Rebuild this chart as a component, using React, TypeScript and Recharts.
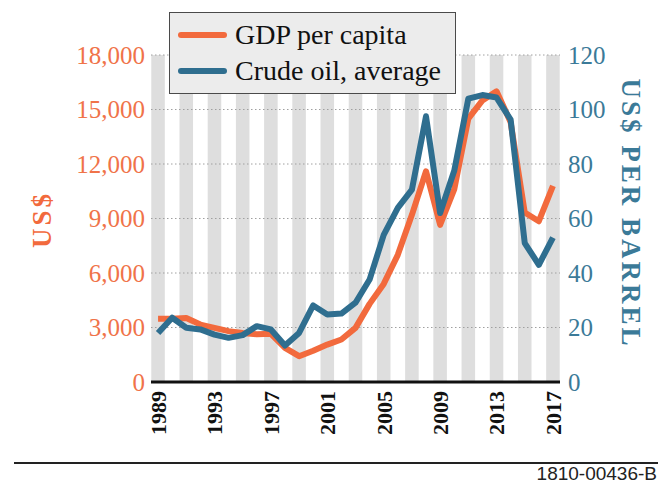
import { ComposedChart, Label, Legend, Line, ReferenceArea, ReferenceLine, XAxis, YAxis } from "recharts";

const years = [
  1989, 1990, 1991, 1992, 1993, 1994, 1995, 1996, 1997, 1998, 1999, 2000, 2001, 2002, 2003,
  2004, 2005, 2006, 2007, 2008, 2009, 2010, 2011, 2012, 2013, 2014, 2015, 2016, 2017,
];
const gdpPerCapita = [
  3480, 3480, 3520, 3160, 2980, 2800, 2700, 2630, 2650, 1880, 1420, 1720, 2060, 2340, 2980,
  4300, 5400, 7000, 9200, 11600, 8650, 10600, 14500, 15500, 16000, 14300, 9330, 8850, 10800,
];
const crudeOil = [
  18.0, 23.6, 19.9, 19.3, 17.4, 16.2, 17.2, 20.5, 19.3, 13.4, 18.0, 28.1, 24.8, 25.1, 29.1,
  37.6, 54.0, 63.9, 70.6, 97.5, 62.0, 77.5, 104.0, 105.3, 104.4, 96.3, 51.0, 43.0, 53.0,
];
const seriesNames = ["GDP per capita", "Crude oil, average"];
const yearTicks = [1989, 1993, 1997, 2001, 2005, 2009, 2013, 2017];
const usdTicks = [0, 3000, 6000, 9000, 12000, 15000, 18000];
const barrelTicks = [0, 20, 40, 60, 80, 100, 120];
const stripeYears = [1989, 1991, 1993, 1995, 1997, 1999, 2001, 2003, 2005, 2007, 2009, 2011, 2013, 2015, 2017];

const data = years.map((year, i) => ({ year, gdp: gdpPerCapita[i], oil: crudeOil[i] }));

const ORANGE = "#f26a3d";
const ORANGE_TEXT = "#f07349";
const BLUE = "#2f6e8f";
const BLUE_TEXT = "#3b7a98";
const SERIF = "'Liberation Serif', 'Times New Roman', serif";

function YearTick({ x, y, payload }: any) {
  return (
    <text
      x={x}
      y={y}
      transform={`rotate(-90 ${x} ${y})`}
      textAnchor="end"
      dy="0.36em"
      fontFamily={SERIF}
      fontWeight={700}
      fontSize={22}
      fill="#111"
    >
      {payload.value}
    </text>
  );
}

function AxisTitle({ viewBox, text, dx, dy, angle, color }: any) {
  const cx = viewBox.x + dx;
  const cy = viewBox.y + viewBox.height / 2 + dy;
  return (
    <text
      x={cx}
      y={cy}
      transform={`rotate(${angle} ${cx} ${cy})`}
      textAnchor="middle"
      dominantBaseline="central"
      fontFamily={SERIF}
      fontWeight={700}
      fontSize={27}
      letterSpacing={3}
      fill={color}
    >
      {text}
    </text>
  );
}

function LegendBox({ payload }: any) {
  const items = [...(payload ?? [])].sort(
    (a: any, b: any) => seriesNames.indexOf(a.value) - seriesNames.indexOf(b.value)
  );
  return (
    <div
      style={{
        boxSizing: "border-box",
        width: 287,
        height: 82,
        border: "1px solid #4a4a4a",
        background: "#ececec",
        padding: "4px 0 0 8px",
      }}
    >
      {items.map((item: any) => (
        <div key={item.value} style={{ display: "flex", alignItems: "center", height: 36 }}>
          <span style={{ width: 49, height: 6, borderRadius: 3, background: item.color, marginRight: 8 }} />
          <span style={{ fontFamily: SERIF, fontSize: 28, color: "#111", lineHeight: "36px" }}>{item.value}</span>
        </div>
      ))}
    </div>
  );
}

export default function App() {
  return (
    <div style={{ position: "absolute", left: 0, top: 0, width: 659, height: 484, background: "#fff" }}>
      <ComposedChart width={659} height={484} data={data} margin={{ top: 55, right: 20, bottom: 20, left: 20 }}>
        <XAxis
          dataKey="year"
          type="number"
          domain={[1988.5, 2017.5]}
          ticks={yearTicks}
          interval={0}
          height={82}
          tickLine={false}
          tickMargin={3}
          axisLine={{ stroke: "#111", strokeWidth: 3 }}
          tick={<YearTick />}
        />
        <YAxis
          yAxisId="left"
          width={131}
          domain={[0, 18000]}
          ticks={usdTicks}
          interval={0}
          axisLine={false}
          tickLine={false}
          tickSize={4}
          tickFormatter={(v) => Number(v).toLocaleString("en-US")}
          tick={{ fill: ORANGE_TEXT, fontSize: 25, fontFamily: SERIF }}
        >
          <Label
            content={(props: any) => (
              <AxisTitle viewBox={props.viewBox} text="US$" dx={22} dy={1} angle={-90} color={ORANGE} />
            )}
          />
        </YAxis>
        <YAxis
          yAxisId="right"
          orientation="right"
          width={79}
          domain={[0, 120]}
          ticks={barrelTicks}
          interval={0}
          axisLine={false}
          tickLine={false}
          tick={{ fill: BLUE_TEXT, fontSize: 25, fontFamily: SERIF }}
        >
          <Label
            content={(props: any) => (
              <AxisTitle viewBox={props.viewBox} text="US$ PER BARREL" dx={71} dy={-5} angle={90} color={BLUE_TEXT} />
            )}
          />
        </YAxis>
        {stripeYears.map((yr) => (
          <ReferenceArea
            key={yr}
            yAxisId="left"
            x1={yr - 0.48}
            x2={yr + 0.48}
            fill="#dedede"
            fillOpacity={1}
            stroke="none"
          />
        ))}
        {usdTicks
          .filter((v) => v > 0)
          .map((v) => (
            <ReferenceLine key={v} yAxisId="left" y={v} stroke="#a0a0a0" strokeWidth={1} strokeDasharray="1.5 2.5" />
          ))}
        <Legend
          verticalAlign="middle"
          align="center"
          layout="horizontal"
          wrapperStyle={{ left: 169, top: 12, width: 287, height: 82 }}
          content={<LegendBox />}
        />
        <Line
          yAxisId="left"
          dataKey="gdp"
          name={seriesNames[0]}
          type="linear"
          stroke={ORANGE}
          strokeWidth={6}
          strokeLinejoin="round"
          dot={false}
          isAnimationActive={false}
        />
        <Line
          yAxisId="right"
          dataKey="oil"
          name={seriesNames[1]}
          type="linear"
          stroke={BLUE}
          strokeWidth={6}
          strokeLinejoin="round"
          dot={false}
          isAnimationActive={false}
        />
      </ComposedChart>
      <div style={{ position: "absolute", left: 14, top: 462, width: 644, height: 2, background: "#222" }} />
      <div
        style={{
          position: "absolute",
          right: 2,
          top: 464,
          fontFamily: "'Liberation Sans', Arial, sans-serif",
          fontSize: 19,
          color: "#222",
          lineHeight: "20px",
        }}
      >
        1810-00436-B
      </div>
    </div>
  );
}
